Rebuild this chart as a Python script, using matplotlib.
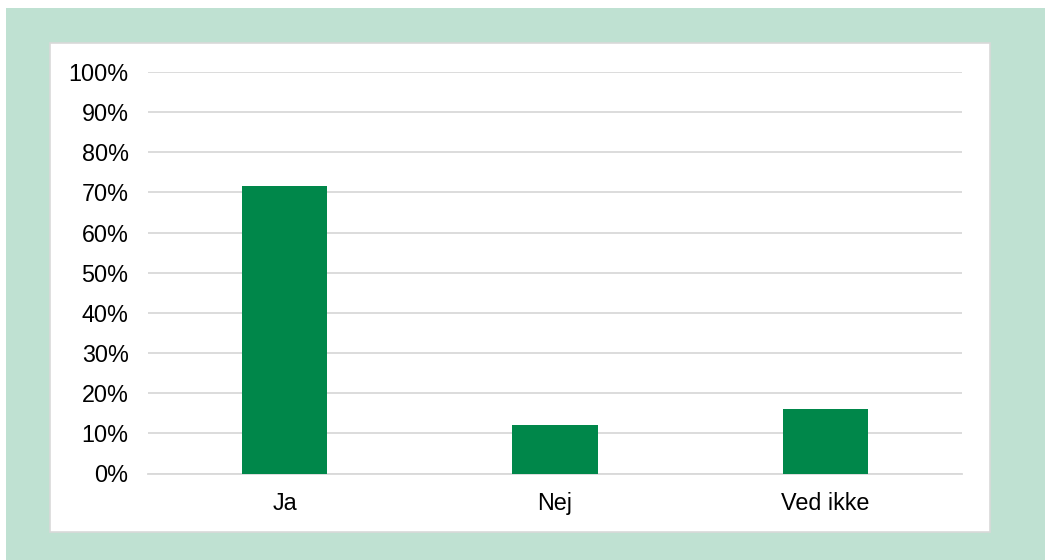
import matplotlib.pyplot as plt
from matplotlib.patches import Rectangle
from matplotlib.ticker import PercentFormatter

plt.rcParams['font.family'] = ['Liberation Sans', 'DejaVu Sans']

# data
categories = ['Ja', 'Nej', 'Ved ikke']
shares = [0.716, 0.122, 0.160]
yticks = [i / 10 for i in range(11)]

fig = plt.figure(figsize=(10.45, 5.6), dpi=100)
W, H = 1045, 560

# green frame and white panel behind the chart
fig.patches.append(Rectangle((6 / W, 0), 1 - 6 / W, 1 - 8 / H, transform=fig.transFigure,
                             facecolor='#BFE1D2', edgecolor='none', zorder=-2))
fig.patches.append(Rectangle((50 / W, 1 - 532 / H), 940 / W, 489 / H, transform=fig.transFigure,
                             facecolor='white', edgecolor='#D9D9D9', linewidth=1.2, zorder=-1))

ax = fig.add_axes([148 / W, 1 - 473.5 / H, 814 / W, 401.5 / H])
ax.set_zorder(2)
ax.set_facecolor('none')
ax.bar(range(len(categories)), shares, width=0.315, color='#00874A', zorder=3)

ax.set_xlim(-0.507, 2.507)
ax.set_ylim(0, 1)
ax.set_yticks(yticks)
ax.yaxis.set_major_formatter(PercentFormatter(1.0, decimals=0))
ax.set_xticks(range(len(categories)))
ax.set_xticklabels(categories)
ax.grid(axis='y', color='#D9D9D9', linewidth=1.3, zorder=0)
for s in ['top', 'right', 'left']:
    ax.spines[s].set_visible(False)
ax.spines['bottom'].set_color('#D9D9D9')
ax.spines['bottom'].set_linewidth(1.3)
ax.tick_params(axis='both', length=0, labelsize=16.8, colors='black')
ax.tick_params(axis='y', pad=14)
ax.tick_params(axis='x', pad=13)

fig.savefig('out.png', dpi=100)
